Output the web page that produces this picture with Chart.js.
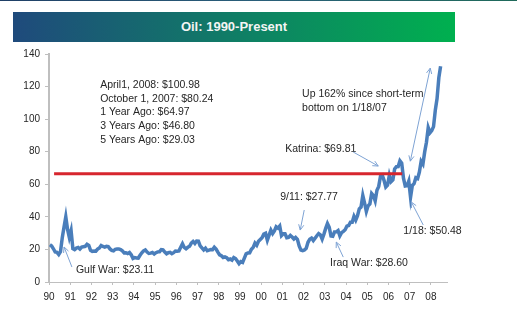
<!DOCTYPE html>
<html>
<head>
<meta charset="utf-8">
<script src="https://cdn.jsdelivr.net/npm/chart.js@4.4.1/dist/chart.umd.min.js"></script>
<style>
  body { margin: 0; background: #fff; }
  #wrap { position: relative; width: 517px; height: 324px; }
  #topline { position: absolute; left: 0; top: 0; width: 517px; height: 1px;
    background: linear-gradient(to right, #1f3f66, #2a5f7a, #1f6a5a); }
  #banner { position: absolute; left: 13px; top: 12px; width: 442px; height: 30px;
    background: linear-gradient(to right, #1f4a7c, #00b04f);
    color: #f4f4f4; font: bold 13px "Liberation Sans", Arial, sans-serif;
    text-align: center; line-height: 30px; z-index: 2; }
  canvas { position: absolute; left: 0; top: 0; }
</style>
</head>
<body>
<div id="wrap">
  <div id="topline"></div>
  <div id="banner">Oil: 1990-Present</div>
  <canvas id="oil" width="517" height="324"></canvas>
</div>
<script>
// monthly oil price, Jan 1990 .. Jun 2008
const firstYear = 1990;
const monthlyPrice = [
  22.9, 22.1, 20.4, 18.4, 18.2, 16.9, 18.6, 27.2, 33.7, 40.0, 32.3, 27.3,
  31.5, 20.5, 19.9, 20.8, 21.2, 20.2, 21.4, 21.7, 21.9, 23.2, 22.5, 19.5,
  18.8, 19.0, 18.9, 20.2, 20.9, 22.4, 21.8, 21.4, 21.9, 21.7, 20.3, 19.4,
  19.1, 20.1, 20.3, 20.3, 19.9, 19.1, 17.9, 18.0, 17.5, 18.1, 16.7, 14.5,
  15.0, 14.8, 14.7, 16.4, 17.9, 19.1, 19.7, 18.4, 17.5, 17.7, 18.1, 17.2,
  18.0, 18.5, 18.6, 19.9, 19.7, 18.4, 17.3, 18.0, 18.2, 17.4, 18.0, 19.0,
  18.9, 19.1, 21.3, 23.5, 21.2, 20.4, 21.3, 21.9, 23.9, 24.9, 23.7, 25.2,
  25.1, 22.2, 20.9, 19.7, 20.8, 19.2, 19.6, 19.9, 19.8, 21.3, 20.2, 18.3,
  16.7, 16.1, 15.0, 15.4, 14.9, 13.7, 14.1, 13.4, 15.0, 14.4, 12.9, 11.3,
  12.5, 12.0, 14.7, 17.3, 17.8, 17.9, 20.1, 21.3, 23.9, 22.6, 25.0, 26.1,
  27.2, 29.4, 29.9, 25.7, 28.8, 31.8, 29.7, 31.3, 33.9, 33.1, 34.4, 28.5,
  29.6, 29.6, 27.2, 27.4, 28.6, 27.6, 26.4, 27.4, 26.2, 22.2, 19.6, 19.3,
  19.7, 20.7, 24.4, 26.3, 27.0, 25.5, 26.9, 28.4, 29.7, 28.9, 26.3, 29.4,
  32.9, 35.9, 33.6, 28.3, 28.1, 30.7, 30.8, 31.6, 28.3, 30.3, 31.1, 32.1,
  34.3, 34.7, 36.7, 36.7, 40.3, 38.0, 40.7, 44.9, 46.0, 53.1, 48.5, 43.3,
  46.8, 48.0, 54.3, 53.0, 49.8, 56.3, 58.7, 64.9, 65.6, 62.4, 58.3, 59.4,
  65.5, 61.6, 62.7, 69.4, 70.8, 70.9, 74.4, 73.0, 63.8, 58.9, 59.1, 62.0,
  52.0, 59.3, 60.4, 64.0, 63.5, 67.5, 74.1, 72.4, 79.9, 85.8, 94.8, 91.7,
  93.0, 95.4, 105.4, 112.6, 125.4, 132.5
];

// the red reference line
const refLineYears = [1990.24, 2006.65];
const refLineValue = 66.5;

const tickYears = [1990, 1991, 1992, 1993, 1994, 1995, 1996, 1997, 1998, 1999,
  2000, 2001, 2002, 2003, 2004, 2005, 2006, 2007, 2008];
const yearLabels = ["90", "91", "92", "93", "94", "95", "96", "97", "98", "99",
  "00", "01", "02", "03", "04", "05", "06", "07", "08"];

const infoLines = [
  "April1, 2008: $100.98",
  "October 1, 2007: $80.24",
  "1 Year Ago: $64.97",
  "3 Years Ago: $46.80",
  "5 Years Ago: $29.03"
];

// callouts, in chart units (year, price)
const notes = [
  { text: "Gulf War: $23.11", at: [1991.27, 7.4], from: [1991.08, 9.2], to: [1990.71, 21.5] },
  { text: "9/11: $27.77", at: [2000.9, 52.1], from: [2002.03, 44.2], to: [2001.84, 31.9] },
  { text: "Iraq War: $28.60", at: [2003.25, 11.7], from: [2003.87, 15.3], to: [2003.54, 24.5] },
  { text: "1/18: $50.48", at: [2006.7, 31.3], from: [2007.64, 35.0], to: [2007.08, 49.1] },
  { text: "Katrina: $69.81", at: [2001.13, 81.6], from: [2004.34, 79.8], to: [2005.52, 71.2] }
];

const priceData = monthlyPrice.map((v, i) => ({ x: firstYear + (i + 0.5) / 12, y: v }));
const refData = refLineYears.map(x => ({ x: x, y: refLineValue }));

const FONT = '"Liberation Sans", Arial, sans-serif';

function arrowHead(ctx, x1, y1, x2, y2) {
  const a = Math.atan2(y2 - y1, x2 - x1);
  const len = 6;
  ctx.beginPath();
  ctx.moveTo(x2 - len * Math.cos(a - 0.45), y2 - len * Math.sin(a - 0.45));
  ctx.lineTo(x2, y2);
  ctx.lineTo(x2 - len * Math.cos(a + 0.45), y2 - len * Math.sin(a + 0.45));
  ctx.stroke();
}

const notesPlugin = {
  id: "notes",
  afterDatasetsDraw(chart) {
    const ctx = chart.ctx;
    const xs = chart.scales.x, ys = chart.scales.y;
    const px = v => xs.getPixelForValue(v);
    const py = v => ys.getPixelForValue(v);
    ctx.save();
    ctx.font = "10.5px " + FONT;
    ctx.fillStyle = "#262626";
    ctx.textBaseline = "middle";
    ctx.textAlign = "left";

    infoLines.forEach((t, i) => {
      ctx.fillText(t, px(1992.41), py(120.9) + i * 13.7);
    });
    ctx.fillText("Up 162% since short-term", px(2001.93), py(115.3));
    ctx.fillText("bottom on 1/18/07", px(2001.93), py(106.7));

    ctx.strokeStyle = "#7ea3d4";
    ctx.lineWidth = 1;
    notes.forEach(n => {
      ctx.fillText(n.text, px(n.at[0]), py(n.at[1]));
      const x1 = px(n.from[0]), y1 = py(n.from[1]);
      const x2 = px(n.to[0]), y2 = py(n.to[1]);
      ctx.beginPath();
      ctx.moveTo(x1, y1);
      ctx.lineTo(x2, y2);
      ctx.stroke();
      arrowHead(ctx, x1, y1, x2, y2);
    });

    // double arrow from the 1/18/07 bottom up to the high
    const ax1 = px(2007.03), ay1 = py(74.2), ax2 = px(2007.97), ay2 = py(131.3);
    ctx.beginPath();
    ctx.moveTo(ax1, ay1);
    ctx.lineTo(ax2, ay2);
    ctx.stroke();
    arrowHead(ctx, ax1, ay1, ax2, ay2);
    arrowHead(ctx, ax2, ay2, ax1, ay1);
    ctx.restore();
  }
};

new Chart(document.getElementById("oil"), {
  type: "line",
  plugins: [notesPlugin],
  data: {
    datasets: [
      {
        data: priceData,
        borderColor: "#4a7ebb",
        borderWidth: 3.5,
        pointRadius: 0,
        tension: 0,
        order: 2
      },
      {
        data: refData,
        borderColor: "#d7262e",
        borderWidth: 3,
        pointRadius: 0,
        order: 1
      }
    ]
  },
  options: {
    responsive: false,
    animation: false,
    layout: { padding: { left: 0, right: 70, top: 54, bottom: 0 } },
    plugins: {
      legend: { display: false },
      tooltip: { enabled: false }
    },
    scales: {
      x: {
        type: "linear",
        min: 1990,
        max: 2008.76,
        afterBuildTicks: s => { s.ticks = tickYears.map(v => ({ value: v })); },
        afterFit: s => { s.height = 42; },
        grid: { drawOnChartArea: false, drawTicks: true, tickLength: 3, color: "#bfbfbf" },
        border: { color: "#bfbfbf", width: 1 },
        ticks: {
          autoSkip: false,
          maxRotation: 0,
          padding: 6,
          color: "#262626",
          font: { family: FONT, size: 10 },
          callback: v => yearLabels[tickYears.indexOf(v)]
        }
      },
      y: {
        min: 0,
        max: 140,
        afterFit: s => { s.width = 49; },
        grid: { drawOnChartArea: false, drawTicks: true, tickLength: 4, color: "#bfbfbf" },
        border: { color: "#bfbfbf", width: 2 },
        ticks: {
          stepSize: 20,
          padding: 5,
          color: "#262626",
          font: { family: FONT, size: 10 }
        }
      }
    }
  }
});
</script>
</body>
</html>
